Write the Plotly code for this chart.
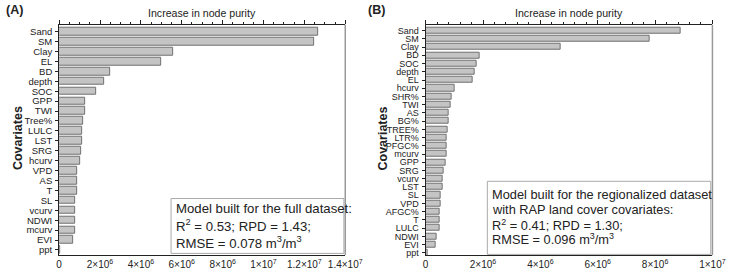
import plotly.graph_objects as go

W, H = 745, 276

cats_a = ["Sand", "SM", "Clay", "EL", "BD", "depth", "SOC", "GPP", "TWI", "Tree%", "LULC", "LST",
          "SRG", "hcurv", "VPD", "AS", "T", "SL", "vcurv", "NDWI", "mcurv", "EVI", "ppt"]
vals_a = [12.65e6, 12.46e6, 5.60e6, 4.98e6, 2.50e6, 2.22e6, 1.82e6, 1.27e6, 1.27e6, 1.16e6, 1.12e6, 1.12e6,
          1.08e6, 1.05e6, 0.90e6, 0.90e6, 0.86e6, 0.79e6, 0.79e6, 0.79e6, 0.78e6, 0.70e6, 0.06e6]

cats_b = ["Sand", "SM", "Clay", "BD", "SOC", "depth", "EL", "hcurv", "SHR%", "TWI", "AS", "BG%", "TREE%",
          "LTR%", "PFGC%", "mcurv", "GPP", "SRG", "vcurv", "LST", "SL", "VPD", "AFGC%", "T", "LULC",
          "NDWI", "EVI", "ppt"]
vals_b = [8.90e6, 7.82e6, 4.69e6, 1.87e6, 1.78e6, 1.71e6, 1.64e6, 0.995e6, 0.89e6, 0.87e6, 0.79e6, 0.79e6,
          0.77e6, 0.72e6, 0.72e6, 0.72e6, 0.70e6, 0.62e6, 0.59e6, 0.59e6, 0.52e6, 0.51e6, 0.50e6, 0.50e6,
          0.475e6, 0.385e6, 0.35e6, 0.06e6]

ticks_a = [0, 2e6, 4e6, 6e6, 8e6, 1e7, 1.2e7, 1.4e7]
ticktext_a = ["0", "2×10<sup>6</sup>", "4×10<sup>6</sup>", "6×10<sup>6</sup>", "8×10<sup>6</sup>",
              "1×10<sup>7</sup>", "1.2×10<sup>7</sup>", "1.4×10<sup>7</sup>"]
ticks_b = [0, 2e6, 4e6, 6e6, 8e6, 1e7]
ticktext_b = ["0", "2×10<sup>6</sup>", "4×10<sup>6</sup>", "6×10<sup>6</sup>", "8×10<sup>6</sup>",
              "1×10<sup>7</sup>"]

note_a = ["Model built for the full dataset:", "R<sup>2</sup> = 0.53; RPD = 1.43;",
          "RMSE = 0.078 m<sup>3</sup>/m<sup>3</sup>"]
note_b = ["Model built for the regionalized dataset", "with RAP land cover covariates:",
          "R<sup>2</sup> = 0.41; RPD = 1.30;", "RMSE = 0.096 m<sup>3</sup>/m<sup>3</sup>"]

FONT = "Liberation Sans, Arial, sans-serif"
FILL = "#c4c4c4"
EDGE = "#707070"
INK = "#222222"


def px_x(p):
    return p / W


def px_y(p):
    return 1 - p / H


# plot area pixel bounds
A_l, A_r = 57.7, 351.7
B_l, B_r = 434.3, 729.0
top = 25.0
A_b, B_b = 257.7, 258.0

fig = go.Figure()

fig.add_trace(go.Bar(x=vals_a, y=cats_a, orientation="h", width=0.78,
                     marker=dict(color=FILL, line=dict(color=EDGE, width=1)),
                     xaxis="x", yaxis="y", showlegend=False))
fig.add_trace(go.Bar(x=vals_b, y=cats_b, orientation="h", width=0.74,
                     marker=dict(color=FILL, line=dict(color=EDGE, width=1)),
                     xaxis="x2", yaxis="y2", showlegend=False))
# invisible traces to carry the bottom label axes
fig.add_trace(go.Scatter(x=[0], y=[cats_a[0]], mode="markers", marker=dict(opacity=0),
                         xaxis="x3", yaxis="y", showlegend=False, hoverinfo="skip"))
fig.add_trace(go.Scatter(x=[0], y=[cats_b[0]], mode="markers", marker=dict(opacity=0),
                         xaxis="x4", yaxis="y2", showlegend=False, hoverinfo="skip"))

dom_a = [px_x(A_l), px_x(A_r)]
dom_b = [px_x(B_l), px_x(B_r)]

top_axis = dict(side="top", showline=True, linecolor=INK, linewidth=1, ticks="outside",
                ticklen=4, tickcolor=INK, showticklabels=False, showgrid=False, zeroline=False)
bot_axis = dict(side="bottom", ticks="", showline=True, linecolor=INK, showgrid=False,
                zeroline=False, tickfont=dict(size=10), ticklabelstandoff=0)
left_axis = dict(showline=True, linecolor=INK, ticks="outside", ticklen=3, tickcolor=INK,
                 showgrid=False, zeroline=False, ticklabelstandoff=1, tickmode="array")

fig.update_layout(
    width=W, height=H, margin=dict(l=0, r=0, t=0, b=0),
    paper_bgcolor="white", plot_bgcolor="white", bargap=0,
    font=dict(family=FONT, color=INK),
    xaxis=dict(domain=dom_a, range=[0, 1.4e7], anchor="y", dtick=2e6, tick0=0,
               minor=dict(dtick=5e5, ticks="outside", ticklen=2, tickcolor=INK), **top_axis),
    xaxis2=dict(domain=dom_b, range=[0, 1e7], anchor="y2", dtick=2e6, tick0=0,
                minor=dict(dtick=4e5, ticks="outside", ticklen=2, tickcolor=INK), **top_axis),
    xaxis3=dict(domain=dom_a, range=[0, 1.4e7], anchor="y", overlaying="x",
                tickvals=ticks_a, ticktext=ticktext_a, **bot_axis),
    xaxis4=dict(domain=dom_b, range=[0, 1e7], anchor="y2", overlaying="x2",
                tickvals=ticks_b, ticktext=ticktext_b, **bot_axis),
    yaxis=dict(domain=[px_y(A_b), px_y(top)], anchor="x", range=[22.5, -0.7],
               tickvals=cats_a, ticktext=cats_a, tickfont=dict(size=9.5), **left_axis),
    yaxis2=dict(domain=[px_y(B_b), px_y(top)], anchor="x2", range=[27.29, -0.72],
                tickvals=cats_b, ticktext=cats_b, tickfont=dict(size=9), **left_axis),
)

# right frame lines (gray)
for xr, yb in ((A_r, A_b), (B_r, B_b)):
    fig.add_shape(type="line", xref="paper", yref="paper", x0=px_x(xr), x1=px_x(xr),
                  y0=px_y(yb), y1=px_y(top), line=dict(color="#999999", width=1.5))

# note boxes
fig.add_shape(type="rect", xref="paper", yref="paper", x0=px_x(172.7), x1=px_x(350.3),
              y0=px_y(256.2), y1=px_y(200.7), line=dict(color="#aaaaaa", width=1),
              fillcolor="white", layer="above")
fig.add_shape(type="rect", xref="paper", yref="paper", x0=px_x(497.7), x1=px_x(727.3),
              y0=px_y(257.2), y1=px_y(183.3), line=dict(color="#aaaaaa", width=1),
              fillcolor="white", layer="above")

ann = []
ann.append(dict(text="<b>(A)</b>", x=px_x(1), y=px_y(1), xanchor="left", yanchor="top",
                font=dict(size=12.5)))
ann.append(dict(text="<b>(B)</b>", x=px_x(373), y=px_y(1), xanchor="left", yanchor="top",
                font=dict(size=12.5)))
ann.append(dict(text="Increase in node purity", x=px_x((A_l + A_r) / 2), y=px_y(13),
                xanchor="center", yanchor="middle", font=dict(size=10.6)))
ann.append(dict(text="Increase in node purity", x=px_x((B_l + B_r) / 2), y=px_y(13),
                xanchor="center", yanchor="middle", font=dict(size=10.6)))
ann.append(dict(text="<b>Covariates</b>", x=px_x(16), y=px_y(140), textangle=-90,
                xanchor="center", yanchor="middle", font=dict(size=12.5)))
ann.append(dict(text="<b>Covariates</b>", x=px_x(390.5), y=px_y(140), textangle=-90,
                xanchor="center", yanchor="middle", font=dict(size=12.5)))
for i, line in enumerate(note_a):
    ann.append(dict(text=line, x=px_x(175.5), y=px_y(210.5 + 17.3 * i), xanchor="left",
                    yanchor="middle", font=dict(size=13.2)))
for i, line in enumerate(note_b):
    ann.append(dict(text=line, x=px_x(500.5), y=px_y(197 + 15.0 * i), xanchor="left",
                    yanchor="middle", font=dict(size=12.8)))
for a in ann:
    a.update(xref="paper", yref="paper", showarrow=False)
fig.update_layout(annotations=ann)

fig.write_html("out.html", config={"displayModeBar": False},
               post_script="document.body.style.margin='0px';")
